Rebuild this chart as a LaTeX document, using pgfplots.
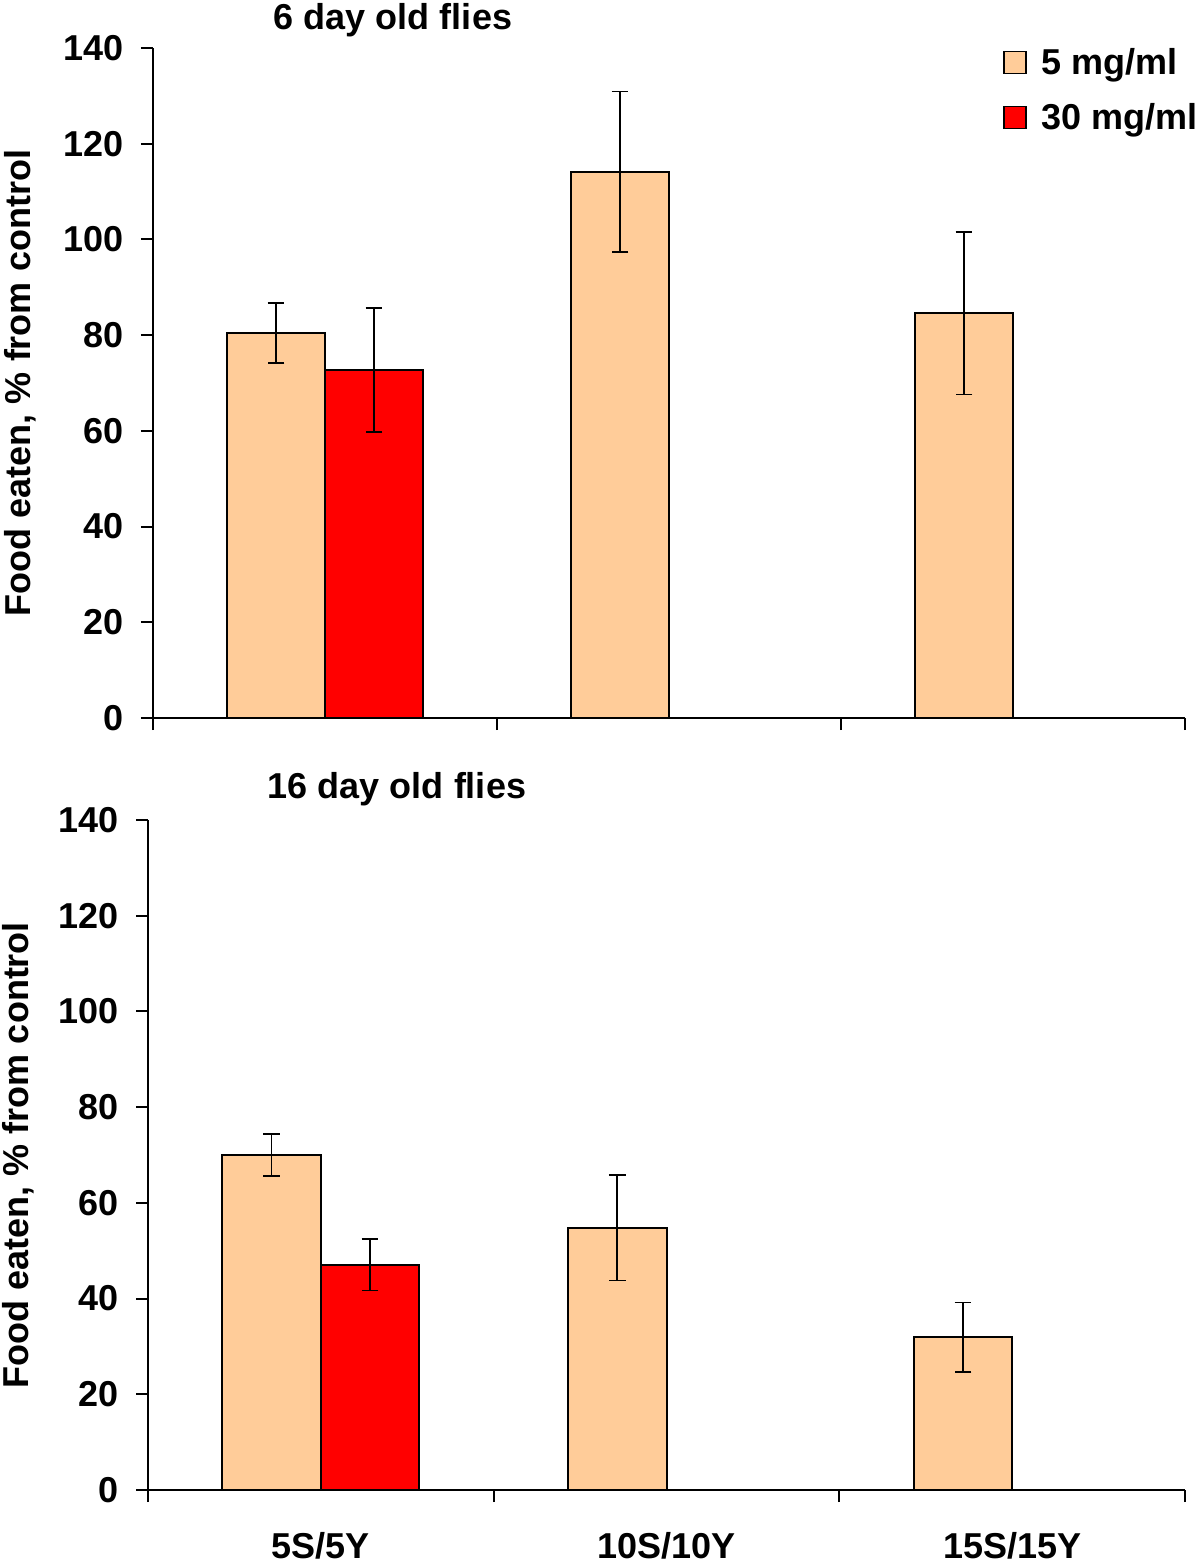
\documentclass[border=0pt]{standalone}
\usepackage{pgfplots}
\pgfplotsset{compat=1.18}
\usepackage{pgfplotstable}
\usepackage{fontspec}
\setmainfont{Liberation Sans}
\definecolor{peach}{HTML}{FFCC99}
\definecolor{myred}{HTML}{FF0000}

% groups at 0,1,2; 5 mg/ml bars left of centre, 30 mg/ml right of centre
\pgfplotstableread{
x y err
-0.1425 80.4 6.3
0.8575 114.1 16.8
1.8575 84.6 17.0
}\topfive
\pgfplotstableread{
x y err
0.1425 72.7 12.9
}\topthirty
\pgfplotstableread{
x y err
-0.1425 70.0 4.4
0.8575 54.8 11.0
1.8575 31.9 7.3
}\botfive
\pgfplotstableread{
x y err
0.1425 47.1 5.4
}\botthirty

\newcommand{\bigf}{\fontsize{18}{21}\selectfont\bfseries}

\pgfplotsset{
  common/.style={
    scale only axis,
    height=335pt,
    xmin=-0.5, xmax=2.5,
    ymin=0, ymax=140,
    ytick={0,20,...,140},
    xtick={-0.5,0.5,1.5,2.5},
    xticklabels={},
    axis x line=bottom,
    axis y line=left,
    axis line style={-, line width=1pt},
    every tick/.style={black, line width=1pt},
    tick align=outside,
    major tick length=6pt,
    /pgf/number format/assume math mode=true,
    tick label style={font=\bigf},
    yticklabel style={xshift=-5pt},
    label style={font=\bigf},
    ylabel={Food eaten, \% from control},
    clip=false,
    error bars/error bar style={line width=0.9pt, black},
    error bars/error mark options={rotate=90, mark size=4.2pt, line width=0.9pt, black},
  },
  barstyle/.style={ybar, bar width=0.285, bar shift=0pt, draw=black, line width=1pt},
}

\begin{document}
\begin{tikzpicture}
\useasboundingbox (0,0) rectangle (600pt,-783.5pt);

\begin{axis}[common,
  at={(76.5pt,-359pt)}, anchor=south west,
  width=516pt,
  ylabel style={at={(axis description cs:-0.129,0.5)}, anchor=center},
  legend style={draw=none, fill=none, at={(1.022,1.0125)}, anchor=north east,
    font=\bigf, row sep=9pt, legend cell align=left},
  legend image code/.code={\draw[#1, draw=black, line width=0.8pt] (0pt,-5.5pt) rectangle (11pt,5.5pt);
    \path (16pt,0pt);},
]
\addplot[barstyle, fill=peach,
  error bars/.cd, y dir=both, y explicit] table[x=x, y=y, y error=err] {\topfive};
\addlegendentry{5 mg/ml}
\addplot[barstyle, fill=myred,
  error bars/.cd, y dir=both, y explicit] table[x=x, y=y, y error=err] {\topthirty};
\addlegendentry{30 mg/ml}
\end{axis}
\node[font=\bigf] at (196.5pt,-10pt) {6 day old flies};

\begin{axis}[common,
  at={(74pt,-745pt)}, anchor=south west,
  width=518.5pt,
  ylabel style={at={(axis description cs:-0.125,0.5)}, anchor=center},
  extra x ticks={0,1,2},
  extra x tick labels={5S/5Y,10S/10Y,15S/15Y},
  extra x tick style={major tick length=0pt, xticklabel style={yshift=-17.5pt}},
]
\addplot[barstyle, fill=peach,
  error bars/.cd, y dir=both, y explicit] table[x=x, y=y, y error=err] {\botfive};
\addplot[barstyle, fill=myred,
  error bars/.cd, y dir=both, y explicit] table[x=x, y=y, y error=err] {\botthirty};
\end{axis}
\node[font=\bigf] at (198.5pt,-394.5pt) {16 day old flies};
\end{tikzpicture}
\end{document}
